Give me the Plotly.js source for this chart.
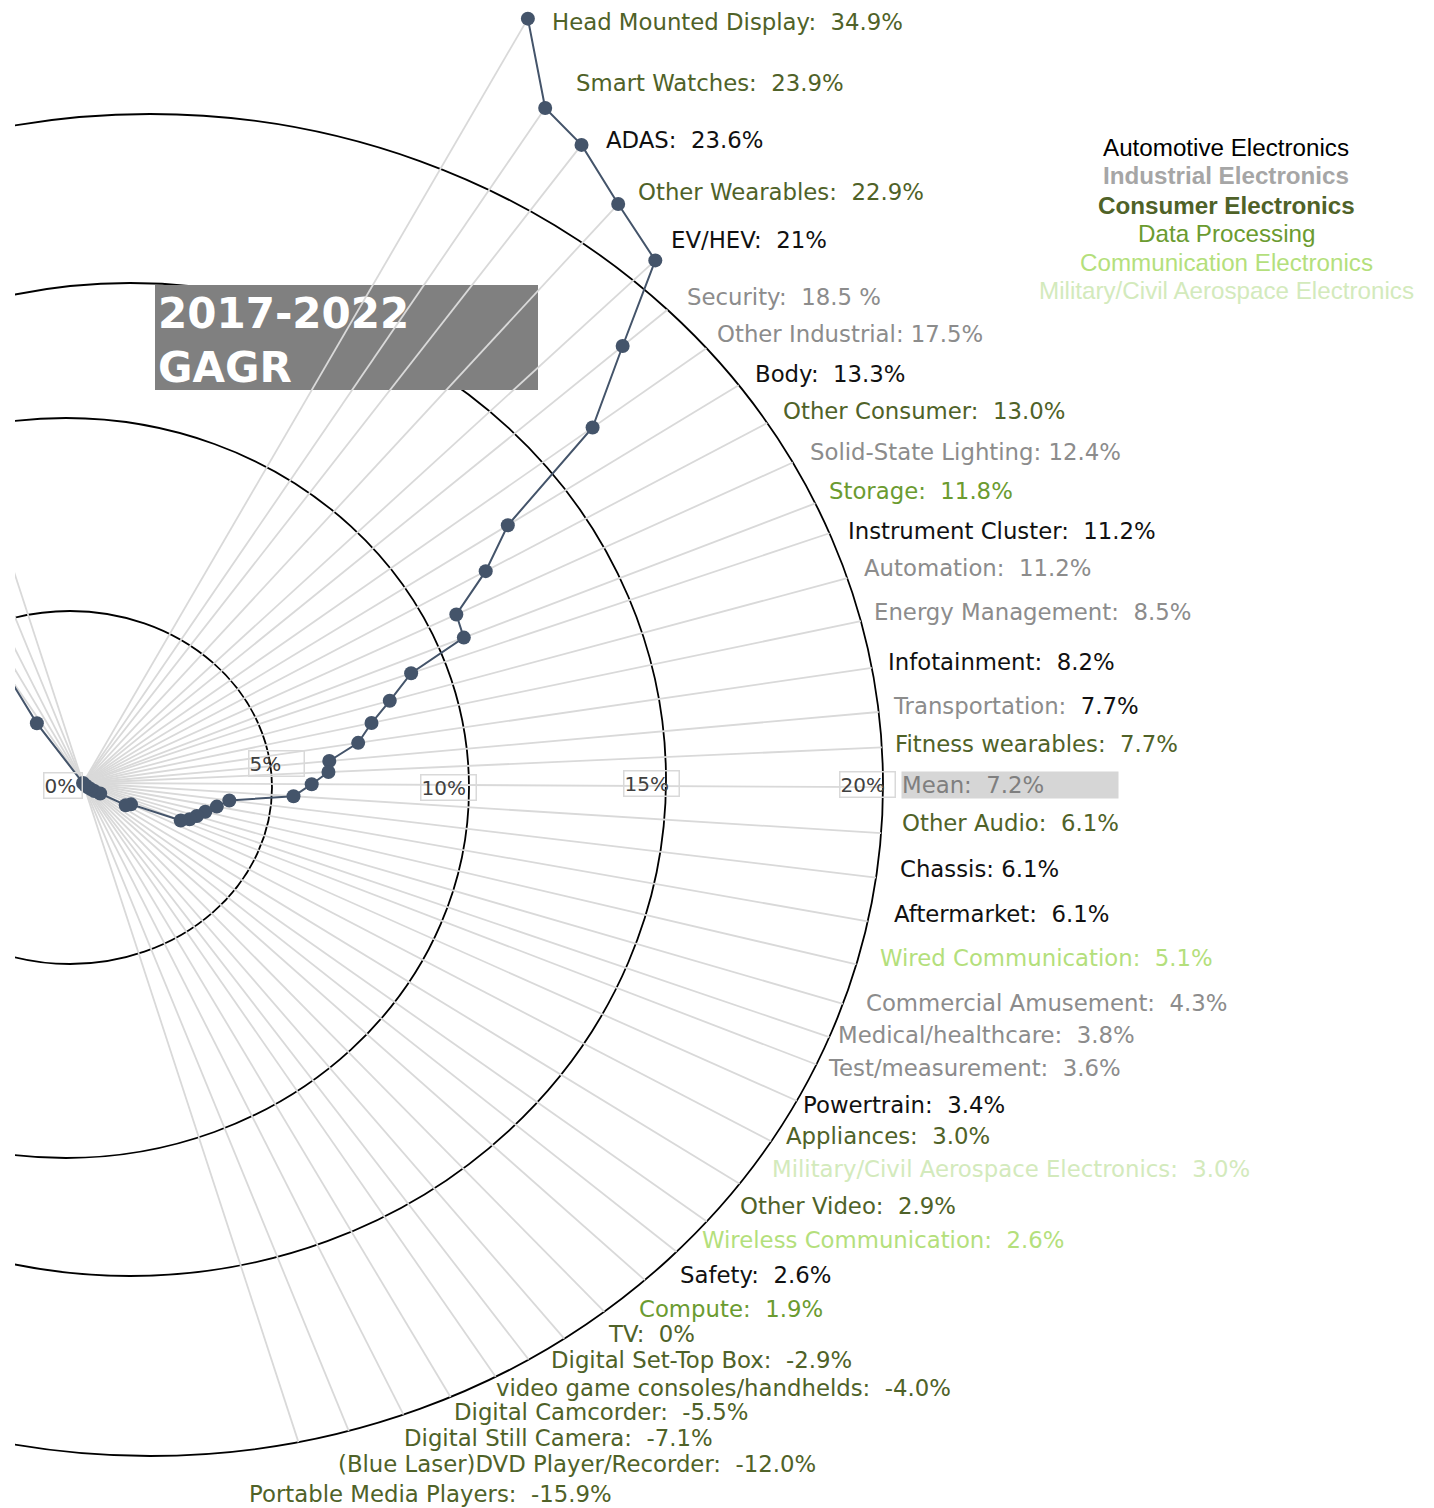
<!DOCTYPE html>
<html>
<head>
<meta charset="utf-8">
<script src="https://cdn.plot.ly/plotly-3.0.1.min.js"></script>
<style>html,body{margin:0;padding:0;background:#fff;}</style>
</head>
<body>
<div id="chart" style="width:1434px;height:1508px;"></div>
<script>
// ---------------- DATA ----------------
const categories = [
  'Head Mounted Display','Smart Watches','ADAS','Other Wearables','EV/HEV','Security',
  'Other Industrial','Body','Other Consumer','Solid-State Lighting','Storage','Instrument Cluster',
  'Automation','Energy Management','Infotainment','Transportation','Fitness wearables','Mean',
  'Other Audio','Chassis','Aftermarket','Wired Communication','Commercial Amusement',
  'Medical/healthcare','Test/measurement','Powertrain','Appliances',
  'Military/Civil Aerospace Electronics','Other Video','Wireless Communication','Safety','Compute',
  'TV','Digital Set-Top Box','video game consoles/handhelds','Digital Camcorder',
  'Digital Still Camera','(Blue Laser)DVD Player/Recorder','Portable Media Players'
];
// 2017-2022 growth as printed in the labels
const valueText = [
  '34.9%','23.9%','23.6%','22.9%','21%','18.5 %','17.5%','13.3%','13.0%','12.4%','11.8%','11.2%',
  '11.2%','8.5%','8.2%','7.7%','7.7%','7.2%','6.1%','6.1%','6.1%','5.1%','4.3%','3.8%','3.6%',
  '3.4%','3.0%','3.0%','2.9%','2.6%','2.6%','1.9%','0%','-2.9%','-4.0%','-5.5%','-7.1%','-12.0%','-15.9%'
];
const sectorOf = [
  'cons','cons','auto','cons','auto','ind','ind','auto','cons','ind','data','auto',
  'ind','ind','auto','ind','cons','mean','cons','auto','auto','comm','ind',
  'ind','ind','auto','cons','mil','cons','comm','auto','data',
  'cons','cons','cons','cons','cons','cons','cons'
];
// angular position of each category (degrees, counter-clockwise from east)
const theta = [
  59.8, 55.6, 52.0, 47.25, 42.4, 39.0, 34.9, 31.25, 27.75, 24.3, 20.9, 18.5,
  15.0, 11.75, 8.3, 5.1, 2.55, -0.3, -3.6, -6.8, -10.0, -13.2, -16.2,
  -18.8, -21.0, -24.0, -27.5, -31.4, -35.1, -38.3, -41.5, -45.4,
  -49.1, -52.3, -55.2, -59.1, -63.1, -67.7, -71.9
];
// radial position of each marker, read against the 0%..20% rings
const plotR = [
  22.39, 20.71, 20.50, 19.96, 19.62, 17.58, 15.73, 12.58, 11.52, 10.37, 10.32, 8.76,
  8.04, 7.46, 7.04, 6.26, 6.22, 5.79, 5.34, 3.73, 3.44, 3.18, 3.00,
  2.85, 2.65, 1.33, 1.22, 0.51, 0.35, 0.25, 0.15, 0.08,
  0, -1.91, -3.6, -6.0, -7.2, -11.0, -15.0
];
const sectors = ['Automotive Electronics','Industrial Electronics','Consumer Electronics',
  'Data Processing','Communication Electronics','Military/Civil Aerospace Electronics'];
const sectorKeys = ['auto','ind','cons','data','comm','mil'];
const radialTicks = [0, 5, 10, 15, 20];
const tickText = ['0%','5%','10%','15%','20%'];

// ---------------- LAYOUT GEOMETRY & STYLE ----------------
const W = 1434, H = 1508, CX = 83, CY = 783, S = 39.5, ML = 15;
const toX = px => (px - CX) / S;
const toY = py => (CY - py) / S;
const colors = {auto:'#111111', ind:'#8c8c8c', cons:'#4f6228', data:'#6b9b30',
                comm:'#b4df7c', mil:'#d3eabc', mean:'#7f7f7f'};
const legendColors = {auto:'#000000', ind:'#a6a6a6', cons:'#4f6228', data:'#6b9b30',
                comm:'#b4df7c', mil:'#d3eabc'};
const legendBold = {ind:true, cons:true};
// rings (px): centre x/y, half-width, half-height
const rings = [
  {cx:70, cy:787.5, a:202, b:176.5},
  {cx:66, cy:788, a:403, b:370},
  {cx:130, cy:779.5, a:536, b:496.5},
  {cx:150, cy:785, a:733, b:671}
];
const tickBoxes = [[62.5,785.5,37],[276.5,763,54],[448,787,54],[651,783.5,54],[867,784,54]];
const labelPx = [
  [552,22],[576,83],[606,140],[638,192],[671,240],[687,297],[717,334],[755,374],[783,411],
  [810,452],[829,491],[848,531],[864,568],[874,612],[888,662],[893,706],[895,744],[903,785],
  [902,823],[900,869],[894,914],[880,958],[866,1003],[838,1035],[828,1068],[803,1105],
  [786,1136],[772,1169],[740,1206],[702,1240],[680,1275],[639,1309],[608,1334],[551,1360],
  [496,1388],[454,1412],[404,1438],[338,1464],[249,1494]
];
const tightColon = ['Other Industrial','Solid-State Lighting','Chassis'];
const legendY = [147,175,205,233,262,290];

// outer ring hit (data units) along an angle
const outer = rings[3];
function outerHit(deg){
  const c = Math.cos(deg*Math.PI/180), s = Math.sin(deg*Math.PI/180);
  const ex = (outer.cx - CX)/S, ey = (CY - outer.cy)/S, a = outer.a/S, b = outer.b/S;
  const A = c*c/(a*a) + s*s/(b*b);
  const B = -2*(c*ex/(a*a) + s*ey/(b*b));
  const C = ex*ex/(a*a) + ey*ey/(b*b) - 1;
  return (-B + Math.sqrt(B*B - 4*A*C)) / (2*A);
}

// rays
const rx = [], ry = [];
categories.forEach((c, i) => {
  const t = theta[i]*Math.PI/180;
  const r0 = Math.min(0, plotR[i]);
  const r1 = Math.max(outerHit(theta[i]), plotR[i]);
  rx.push(r0*Math.cos(t), r1*Math.cos(t), null);
  ry.push(r0*Math.sin(t), r1*Math.sin(t), null);
});

const rays = {
  type:'scatter', mode:'lines', x:rx, y:ry, hoverinfo:'skip',
  line:{color:'#d9d9d9', width:1.8}, showlegend:false
};
const series = {
  type:'scatter', mode:'lines+markers',
  x: plotR.map((r,i) => r*Math.cos(theta[i]*Math.PI/180)),
  y: plotR.map((r,i) => r*Math.sin(theta[i]*Math.PI/180)),
  text: categories, hoverinfo:'text',
  line:{color:'#44546a', width:2},
  marker:{color:'#44546a', size:14},
  showlegend:false
};

const shapes = rings.map(g => ({
  type:'circle', xref:'x', yref:'y', layer:'below',
  x0: toX(g.cx - g.a), x1: toX(g.cx + g.a),
  y0: toY(g.cy + g.b), y1: toY(g.cy - g.b),
  line:{color:'#000000', width:1.8}, fillcolor:'rgba(0,0,0,0)'
}));
shapes.push({
  type:'rect', xref:'x', yref:'y', layer:'below',
  x0: toX(155), x1: toX(538), y0: toY(390), y1: toY(285),
  fillcolor:'#808080', line:{width:0},
  label:{text:'<b>2017-2022<br>GAGR</b>', textposition:'middle left', padding:0,
    font:{family:'DejaVu Sans', size:42, color:'#ffffff'}}
});

const annotations = [];
categories.forEach((c, i) => {
  const key = sectorOf[i];
  const sep = tightColon.includes(c) ? ': ' : ':\u00a0\u00a0';
  let txt = c + sep + valueText[i];
  if (c === 'Transportation') {
    txt = c + sep + '<span style="color:' + colors.auto + '">' + valueText[i] + '</span>';
  }
  const ann = {
    xref:'x', yref:'y', x: toX(labelPx[i][0] - 2), y: toY(labelPx[i][1]),
    xanchor:'left', yanchor:'middle', showarrow:false, text: txt,
    font:{family:'DejaVu Sans', size:22.8, color: colors[key]}
  };
  if (key === 'mean') {
    ann.bgcolor = '#d6d6d6'; ann.width = 216; ann.align = 'left'; ann.borderpad = 0;
  }
  annotations.push(ann);
});
radialTicks.forEach((v, i) => {
  const b = tickBoxes[i];
  annotations.push({
    xref:'x', yref:'y', x: toX(b[0]), y: toY(b[1]), xanchor:'center', yanchor:'middle',
    showarrow:false, text: tickText[i], width: b[2], align:'left',
    bordercolor:'#d9d9d9', borderwidth:1.5, borderpad:0,
    font:{family:'DejaVu Sans', size:20, color:'#404040'}
  });
});
sectors.forEach((s, i) => {
  const k = sectorKeys[i];
  annotations.push({
    xref:'x', yref:'y', x: toX(1226), y: toY(legendY[i]), xanchor:'center', yanchor:'middle',
    showarrow:false, text: legendBold[k] ? '<b>' + s + '</b>' : s,
    font:{family:'Liberation Sans, Arial, sans-serif', size:24.2, color: legendColors[k]}
  });
});

const layout = {
  width: W, height: H,
  margin:{l:ML, r:0, t:0, b:0, pad:0},
  paper_bgcolor:'#ffffff', plot_bgcolor:'#ffffff',
  xaxis:{range:[toX(ML), toX(W)], visible:false, fixedrange:true},
  yaxis:{range:[toY(H), toY(0)], visible:false, fixedrange:true},
  shapes: shapes, annotations: annotations, showlegend:false
};

Plotly.newPlot('chart', [rays, series], layout, {displayModeBar:false, staticPlot:true});
</script>
</body>
</html>
